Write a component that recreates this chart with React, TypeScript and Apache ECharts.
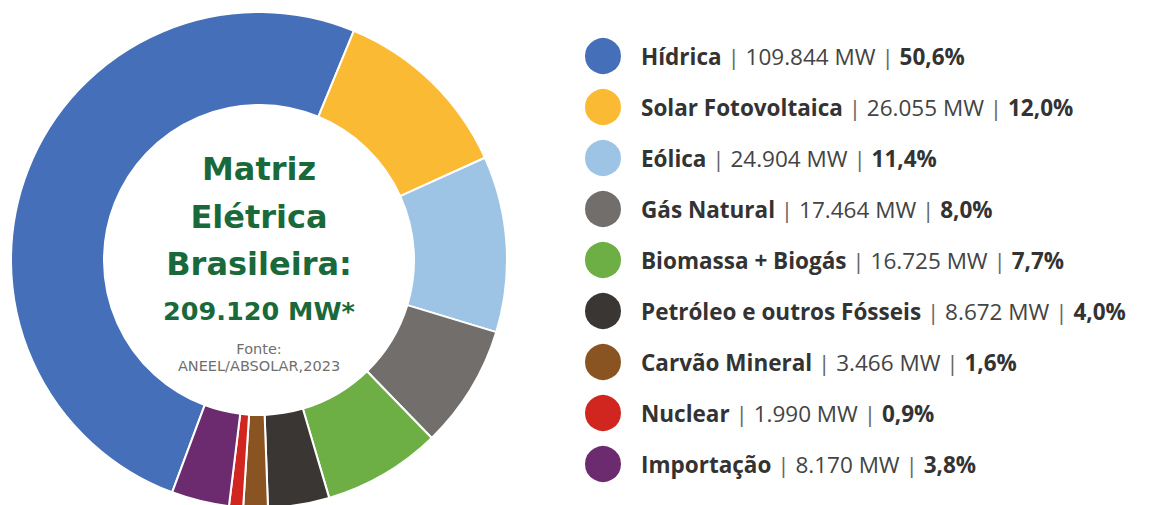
import React, { useEffect, useRef } from "react";
import * as echarts from "echarts";

const categories = [
  "Hídrica",
  "Solar Fotovoltaica",
  "Eólica",
  "Gás Natural",
  "Biomassa + Biogás",
  "Petróleo e outros Fósseis",
  "Carvão Mineral",
  "Nuclear",
  "Importação",
];
const mwValues = [109844, 26055, 24904, 17464, 16725, 8672, 3466, 1990, 8170];
const pctLabels = ["50,6%", "12,0%", "11,4%", "8,0%", "7,7%", "4,0%", "1,6%", "0,9%", "3,8%"];
const colors = [
  "#456FB9",
  "#FBBA33",
  "#9DC3E5",
  "#716E6C",
  "#6EAF45",
  "#3A3634",
  "#8A5322",
  "#D0261F",
  "#6C2B6E",
];
const centerTitle = ["Matriz", "Elétrica", "Brasileira:"];
const centerTotal = "209.120 MW*";
const sourceLines = ["Fonte:", "ANEEL/ABSOLAR,2023"];

const fmtMW = (v: number) => String(v).replace(/\B(?=(\d{3})+(?!\d))/g, ".");

const FONT = "'Open Sans', 'Noto Sans', sans-serif";
const CFONT = "'DejaVu Sans', 'Open Sans', sans-serif";

export default function App() {
  const ref = useRef<HTMLDivElement>(null);
  useEffect(() => {
    document.body.style.margin = "0";
    const chart = echarts.init(ref.current!, null, { renderer: "svg" });
    const cx = 259;
    const cy = 260;
    const green = "#19693A";
    const fs = 22.5;
    chart.setOption({
      animation: false,
      backgroundColor: "#ffffff",
      color: colors,
      legend: {
        orient: "vertical",
        left: 583,
        top: 36,
        height: 470,
        padding: 0,
        icon: "circle",
        itemWidth: 38,
        itemHeight: 38,
        itemGap: 11,
        selectedMode: false,
        data: categories,
        formatter: (name: string) => {
          const i = categories.indexOf(name);
          return `{b|${name}}{s| | }{n|${fmtMW(mwValues[i])} MW}{s| | }{b|${pctLabels[i]}}`;
        },
        textStyle: {
          fontFamily: FONT,
          fontSize: fs,
          color: "#333333",
          lineHeight: 26,
          rich: {
            b: { fontFamily: FONT, fontSize: fs, lineHeight: 26, fontWeight: "bold", color: "#333333" },
            n: { fontFamily: FONT, fontSize: fs, lineHeight: 26, fontWeight: "normal", color: "#444444" },
            s: { fontFamily: FONT, fontSize: fs, lineHeight: 26, fontWeight: "normal", color: "#666666" },
          },
          padding: [0, 0, 0, 14],
        },
      },
      series: [
        {
          type: "pie",
          center: [cx, cy],
          radius: [155, 248],
          startAngle: 249.5,
          clockwise: true,
          label: { show: false },
          labelLine: { show: false },
          emphasis: { disabled: true },
          itemStyle: { borderColor: "#ffffff", borderWidth: 2 },
          data: categories.map((c, i) => ({ name: c, value: mwValues[i] })),
        },
      ],
      graphic: [
        ...centerTitle.map((t, i) => ({
          type: "text",
          x: cx,
          y: 169 + i * 47.5,
          style: {
            text: t,
            fontFamily: CFONT,
            fontWeight: "bold",
            fontSize: 32,
            fill: green,
            align: "center",
            verticalAlign: "middle",
          },
        })),
        {
          type: "text",
          x: cx,
          y: 311,
          style: {
            text: centerTotal,
            fontFamily: CFONT,
            fontWeight: "bold",
            fontSize: 25.5,
            fill: green,
            align: "center",
            verticalAlign: "middle",
          },
        },
        ...sourceLines.map((t, i) => ({
          type: "text",
          x: cx,
          y: 349 + i * 17,
          style: {
            text: t,
            fontFamily: CFONT,
            fontWeight: "normal",
            fontSize: 14.5,
            fill: "#6f6f6f",
            align: "center",
            verticalAlign: "middle",
          },
        })),
      ],
    });
    return () => chart.dispose();
  }, []);
  return <div ref={ref} style={{ width: 1151, height: 505 }} />;
}
